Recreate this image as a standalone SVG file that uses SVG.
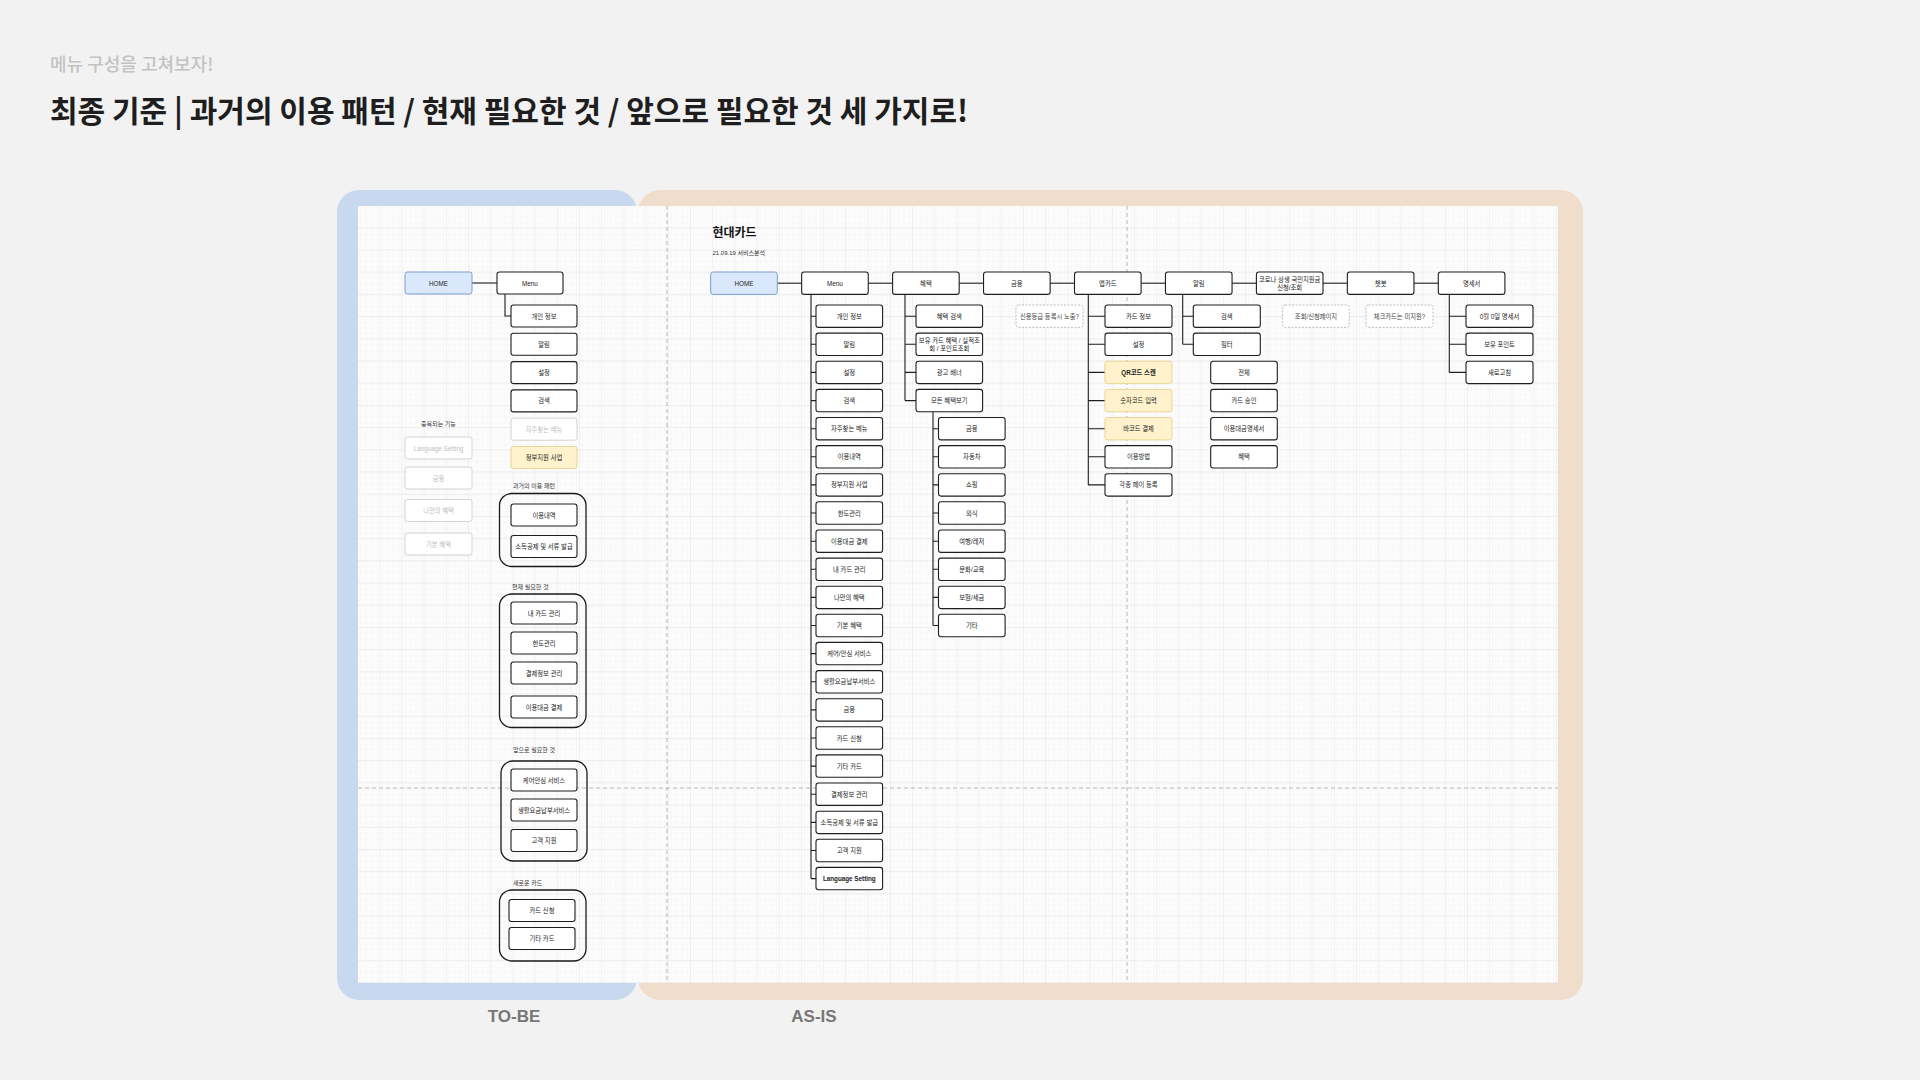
<svg xmlns="http://www.w3.org/2000/svg" width="1920" height="1080" viewBox="0 0 1920 1080">
<defs>
<pattern id="minor" width="5.55" height="5.55" patternUnits="userSpaceOnUse" x="358" y="206"><path d="M5.55 0V5.55H0" fill="none" stroke="#efefef" stroke-width="0.6"/></pattern>
<pattern id="major" width="22.2" height="22.2" patternUnits="userSpaceOnUse" x="358" y="206"><rect width="22.2" height="22.2" fill="url(#minor)"/><path d="M22.2 0V22.2H0" fill="none" stroke="#dedede" stroke-width="0.8"/></pattern>
<style>
.bx{fill:#fff;stroke:#1e1e1e;stroke-width:1.1}
.hm{fill:#dae8fc;stroke:#7d9dd0;stroke-width:1}
.yl{fill:#fff2cc;stroke:#e9d596;stroke-width:1}
.gy{fill:#fff;stroke:#d2d2d2;stroke-width:1}
.nt{fill:#fff;stroke:#b5b5b5;stroke-width:0.9;stroke-dasharray:2 1.5}
.grp{fill:none;stroke:#1a1a1a;stroke-width:1.3}
.cn{fill:none;stroke:#1e1e1e;stroke-width:1.1}
.dash{fill:none;stroke:#a8a8a8;stroke-width:0.8;stroke-dasharray:4 3}
.t{font-family:"Liberation Sans","Noto Sans CJK KR",sans-serif;font-size:6.3px;fill:#222;text-anchor:middle;dominant-baseline:central}
.tg{fill:#bdbdbd}
.tn{fill:#444}
.lb{font-family:"Liberation Sans","Noto Sans CJK KR",sans-serif;font-size:6px;fill:#333}
</style>
</defs>
<rect width="1920" height="1080" fill="#f2f2f2"/>
<text x="50" y="71" font-family="'Noto Sans CJK KR',sans-serif" font-size="18" font-weight="500" fill="#c2c2c2">메뉴 구성을 고쳐보자!</text>
<text x="50" y="122" font-family="'Noto Sans CJK KR',sans-serif" font-size="30" font-weight="700" fill="#1e1e1e">최종 기준 | 과거의 이용 패턴 / 현재 필요한 것 / 앞으로 필요한 것 세 가지로!</text>

<g id="panels">
<rect x="337" y="190" width="300" height="810" rx="22" fill="#c8d8ef"/>
<rect x="638" y="190" width="945" height="810" rx="22" fill="#f0ddcb"/>
<rect x="358" y="206" width="1200" height="777" fill="#fcfcfc"/>
<rect x="358" y="206" width="1200" height="777" fill="url(#major)"/>
<line class="dash" x1="667" y1="206" x2="667" y2="983"/>
<line class="dash" x1="1127" y1="206" x2="1127" y2="983"/>
<line class="dash" x1="358" y1="788" x2="1558" y2="788"/>
</g>
<text x="514" y="1022" font-family="'Liberation Sans','Noto Sans CJK KR',sans-serif" font-size="17" font-weight="700" fill="#777" text-anchor="middle">TO-BE</text>
<text x="814" y="1022" font-family="'Liberation Sans','Noto Sans CJK KR',sans-serif" font-size="17" font-weight="700" fill="#777" text-anchor="middle">AS-IS</text>

<g id="connectors">
<line class="cn" x1="472" y1="283" x2="497" y2="283"/>
<path class="cn" d="M505 294V316H511"/>
<line class="cn" x1="777.3" y1="283.2" x2="801.65" y2="283.2"/>
<line class="cn" x1="868.25" y1="283.2" x2="892.6" y2="283.2"/>
<line class="cn" x1="959.2" y1="283.2" x2="983.55" y2="283.2"/>
<line class="cn" x1="1050.15" y1="283.2" x2="1074.5" y2="283.2"/>
<line class="cn" x1="1141.1" y1="283.2" x2="1165.45" y2="283.2"/>
<line class="cn" x1="1232.05" y1="283.2" x2="1256.4" y2="283.2"/>
<line class="cn" x1="1323" y1="283.2" x2="1347.35" y2="283.2"/>
<line class="cn" x1="1413.95" y1="283.2" x2="1438.3" y2="283.2"/>
<path class="cn" d="M811 294.4V878.6M811 316.2H816M811 344.3H816M811 372.4H816M811 400.6H816M811 428.7H816M811 456.8H816M811 484.9H816M811 513H816M811 541.2H816M811 569.3H816M811 597.4H816M811 625.5H816M811 653.6H816M811 681.8H816M811 709.9H816M811 738H816M811 766.1H816M811 794.2H816M811 822.4H816M811 850.5H816M811 878.6H816"/>
<path class="cn" d="M905 294.4V400.6M905 316.2H916M905 344.3H916M905 372.4H916M905 400.6H916"/>
<path class="cn" d="M933 411.8V625.5M933 428.7H938.5M933 456.8H938.5M933 484.9H938.5M933 513H938.5M933 541.2H938.5M933 569.3H938.5M933 597.4H938.5M933 625.5H938.5"/>
<path class="cn" d="M1088.3 294.4V484.9M1088.3 316.2H1105M1088.3 344.3H1105M1088.3 372.4H1105M1088.3 400.6H1105M1088.3 428.7H1105M1088.3 456.8H1105M1088.3 484.9H1105"/>
<path class="cn" d="M1182.7 294.4V344.3M1182.7 316.2H1193.3M1182.7 344.3H1193.3"/>
<path class="cn" d="M1449.3 294.4V372.4M1449.3 316.2H1466M1449.3 344.3H1466M1449.3 372.4H1466"/>
</g>

<!-- TO-BE -->
<g id="tb-home"><rect class="hm" x="405" y="272" width="67" height="22" rx="2.5"/><text class="t" x="438.5" y="283">HOME</text></g>
<g id="tb-menu"><rect class="bx" x="497" y="272" width="66" height="22" rx="2.5"/><text class="t" x="530" y="283">Menu</text></g>
<g id="tb-m1"><rect class="bx" x="511" y="305" width="66" height="22" rx="2.5"/><text class="t" x="544" y="316">개인 정보</text></g>
<g id="tb-m2"><rect class="bx" x="511" y="333.3" width="66" height="22" rx="2.5"/><text class="t" x="544" y="344.3">알림</text></g>
<g id="tb-m3"><rect class="bx" x="511" y="361.6" width="66" height="22" rx="2.5"/><text class="t" x="544" y="372.6">설정</text></g>
<g id="tb-m4"><rect class="bx" x="511" y="389.9" width="66" height="22" rx="2.5"/><text class="t" x="544" y="400.9">검색</text></g>
<g id="tb-m5"><rect class="gy" x="511" y="418.2" width="66" height="22" rx="2.5"/><text class="t tg" x="544" y="429.2">자주찾는 메뉴</text></g>
<g id="tb-m6"><rect class="yl" x="511" y="446.5" width="66" height="22" rx="2.5"/><text class="t" x="544" y="457.5">정부지원 사업</text></g>
<text class="lb" x="438.5" y="425.5" text-anchor="middle">중복되는 기능</text>
<g id="tb-d1"><rect class="gy" x="405" y="437" width="67" height="22" rx="2.5"/><text class="t tg" x="438.5" y="448">Language Setting</text></g>
<g id="tb-d2"><rect class="gy" x="405" y="467" width="67" height="22" rx="2.5"/><text class="t tg" x="438.5" y="478">금융</text></g>
<g id="tb-d3"><rect class="gy" x="405" y="499.5" width="67" height="22" rx="2.5"/><text class="t tg" x="438.5" y="510.5">나만의 혜택</text></g>
<g id="tb-d4"><rect class="gy" x="405" y="533" width="67" height="22" rx="2.5"/><text class="t tg" x="438.5" y="544">기본 혜택</text></g>

<g id="tb-g1">
<text class="lb" x="513" y="488">과거의 이용 패턴</text>
<rect class="grp" x="499.5" y="493.5" width="86.5" height="73" rx="12"/>
</g>
<g id="tb-p1"><rect class="bx" x="511" y="504" width="66" height="22" rx="2.5"/><text class="t" x="544" y="515">이용내역</text></g>
<g id="tb-p2"><rect class="bx" x="511" y="535.5" width="66" height="22" rx="2.5"/><text class="t" x="544" y="546.5">소득공제 및 서류 발급</text></g>

<g id="tb-g2">
<text class="lb" x="512" y="588.5">현재 필요한 것</text>
<rect class="grp" x="499.5" y="594" width="86.5" height="133.5" rx="12"/>
</g>
<g id="tb-c1"><rect class="bx" x="511" y="602" width="66" height="22" rx="2.5"/><text class="t" x="544" y="613">내 카드 관리</text></g>
<g id="tb-c2"><rect class="bx" x="511" y="632" width="66" height="22" rx="2.5"/><text class="t" x="544" y="643">한도관리</text></g>
<g id="tb-c3"><rect class="bx" x="511" y="662" width="66" height="22" rx="2.5"/><text class="t" x="544" y="673">결제정보 관리</text></g>
<g id="tb-c4"><rect class="bx" x="511" y="696" width="66" height="22" rx="2.5"/><text class="t" x="544" y="707">이용대금 결제</text></g>

<g id="tb-g3">
<text class="lb" x="513" y="751.5">앞으로 필요한 것</text>
<rect class="grp" x="501" y="761" width="86" height="100" rx="12"/>
</g>
<g id="tb-f1"><rect class="bx" x="511" y="769" width="66" height="22" rx="2.5"/><text class="t" x="544" y="780">케어안심 서비스</text></g>
<g id="tb-f2"><rect class="bx" x="511" y="799" width="66" height="22" rx="2.5"/><text class="t" x="544" y="810">생활요금납부서비스</text></g>
<g id="tb-f3"><rect class="bx" x="511" y="829.5" width="66" height="22" rx="2.5"/><text class="t" x="544" y="840.5">고객 지원</text></g>

<g id="tb-g4">
<text class="lb" x="513" y="885">새로운 카드</text>
<rect class="grp" x="499.5" y="890" width="86.5" height="71" rx="12"/>
</g>
<g id="tb-n1"><rect class="bx" x="509" y="899.5" width="66" height="22" rx="2.5"/><text class="t" x="542" y="910.5">카드 신청</text></g>
<g id="tb-n2"><rect class="bx" x="509" y="927.5" width="66" height="22" rx="2.5"/><text class="t" x="542" y="938.5">기타 카드</text></g>

<!-- AS-IS -->
<text x="712.5" y="237" font-family="'Noto Sans CJK KR',sans-serif" font-size="12" font-weight="700" fill="#111">현대카드</text>
<text class="lb" x="712.5" y="255" font-size="6.2">21.09.19 서비스분석</text>

<g id="as-home"><rect class="hm" x="710.7" y="272" width="66.6" height="22.4" rx="2.5"/><text class="t" x="744" y="283.2">HOME</text></g>
<g id="as-menu"><rect class="bx" x="801.65" y="272" width="66.6" height="22.4" rx="2.5"/><text class="t" x="834.95" y="283.2">Menu</text></g>
<g id="as-benefit"><rect class="bx" x="892.6" y="272" width="66.6" height="22.4" rx="2.5"/><text class="t" x="925.9" y="283.2">혜택</text></g>
<g id="as-finance"><rect class="bx" x="983.55" y="272" width="66.6" height="22.4" rx="2.5"/><text class="t" x="1016.85" y="283.2">금융</text></g>
<g id="as-appcard"><rect class="bx" x="1074.5" y="272" width="66.6" height="22.4" rx="2.5"/><text class="t" x="1107.8" y="283.2">앱카드</text></g>
<g id="as-alarm"><rect class="bx" x="1165.45" y="272" width="66.6" height="22.4" rx="2.5"/><text class="t" x="1198.75" y="283.2">알림</text></g>
<g id="as-corona"><rect class="bx" x="1256.4" y="272" width="66.6" height="22.4" rx="2.5"/><text class="t" x="1289.7" y="279.6">코로나 상생 국민지원금</text><text class="t" x="1289.7" y="287">신청/조회</text></g>
<g id="as-chatbot"><rect class="bx" x="1347.35" y="272" width="66.6" height="22.4" rx="2.5"/><text class="t" x="1380.65" y="283.2">챗봇</text></g>
<g id="as-statement"><rect class="bx" x="1438.3" y="272" width="66.6" height="22.4" rx="2.5"/><text class="t" x="1471.6" y="283.2">명세서</text></g>

<g id="as-m0"><rect class="bx" x="816" y="305" width="66.6" height="22.4" rx="2.5"/><text class="t" x="849.3" y="316.2">개인 정보</text></g>
<g id="as-m1"><rect class="bx" x="816" y="333.1" width="66.6" height="22.4" rx="2.5"/><text class="t" x="849.3" y="344.3">알림</text></g>
<g id="as-m2"><rect class="bx" x="816" y="361.2" width="66.6" height="22.4" rx="2.5"/><text class="t" x="849.3" y="372.4">설정</text></g>
<g id="as-m3"><rect class="bx" x="816" y="389.4" width="66.6" height="22.4" rx="2.5"/><text class="t" x="849.3" y="400.6">검색</text></g>
<g id="as-m4"><rect class="bx" x="816" y="417.5" width="66.6" height="22.4" rx="2.5"/><text class="t" x="849.3" y="428.7">자주찾는 메뉴</text></g>
<g id="as-m5"><rect class="bx" x="816" y="445.6" width="66.6" height="22.4" rx="2.5"/><text class="t" x="849.3" y="456.8">이용내역</text></g>
<g id="as-m6"><rect class="bx" x="816" y="473.7" width="66.6" height="22.4" rx="2.5"/><text class="t" x="849.3" y="484.9">정부지원 사업</text></g>
<g id="as-m7"><rect class="bx" x="816" y="501.8" width="66.6" height="22.4" rx="2.5"/><text class="t" x="849.3" y="513">한도관리</text></g>
<g id="as-m8"><rect class="bx" x="816" y="530" width="66.6" height="22.4" rx="2.5"/><text class="t" x="849.3" y="541.2">이용대금 결제</text></g>
<g id="as-m9"><rect class="bx" x="816" y="558.1" width="66.6" height="22.4" rx="2.5"/><text class="t" x="849.3" y="569.3">내 카드 관리</text></g>
<g id="as-m10"><rect class="bx" x="816" y="586.2" width="66.6" height="22.4" rx="2.5"/><text class="t" x="849.3" y="597.4">나만의 혜택</text></g>
<g id="as-m11"><rect class="bx" x="816" y="614.3" width="66.6" height="22.4" rx="2.5"/><text class="t" x="849.3" y="625.5">기본 혜택</text></g>
<g id="as-m12"><rect class="bx" x="816" y="642.4" width="66.6" height="22.4" rx="2.5"/><text class="t" x="849.3" y="653.6">케어/안심 서비스</text></g>
<g id="as-m13"><rect class="bx" x="816" y="670.6" width="66.6" height="22.4" rx="2.5"/><text class="t" x="849.3" y="681.8">생활요금납부서비스</text></g>
<g id="as-m14"><rect class="bx" x="816" y="698.7" width="66.6" height="22.4" rx="2.5"/><text class="t" x="849.3" y="709.9">금융</text></g>
<g id="as-m15"><rect class="bx" x="816" y="726.8" width="66.6" height="22.4" rx="2.5"/><text class="t" x="849.3" y="738">카드 신청</text></g>
<g id="as-m16"><rect class="bx" x="816" y="754.9" width="66.6" height="22.4" rx="2.5"/><text class="t" x="849.3" y="766.1">기타 카드</text></g>
<g id="as-m17"><rect class="bx" x="816" y="783" width="66.6" height="22.4" rx="2.5"/><text class="t" x="849.3" y="794.2">결제정보 관리</text></g>
<g id="as-m18"><rect class="bx" x="816" y="811.2" width="66.6" height="22.4" rx="2.5"/><text class="t" x="849.3" y="822.4">소득공제 및 서류 발급</text></g>
<g id="as-m19"><rect class="bx" x="816" y="839.3" width="66.6" height="22.4" rx="2.5"/><text class="t" x="849.3" y="850.5">고객 지원</text></g>
<g id="as-m20"><rect class="bx" x="816" y="867.4" width="66.6" height="22.4" rx="2.5"/><text class="t" x="849.3" y="878.6" font-weight="700">Language Setting</text></g>

<g id="as-b0"><rect class="bx" x="916" y="305" width="66.6" height="22.4" rx="2.5"/><text class="t" x="949.3" y="316.2">혜택 검색</text></g>
<g id="as-b1"><rect class="bx" x="916" y="333.1" width="66.6" height="22.4" rx="2.5"/><text class="t" x="949.3" y="340.6">보유 카드 혜택 / 실적조</text><text class="t" x="949.3" y="348">회 / 포인트조회</text></g>
<g id="as-b2"><rect class="bx" x="916" y="361.2" width="66.6" height="22.4" rx="2.5"/><text class="t" x="949.3" y="372.4">광고 배너</text></g>
<g id="as-b3"><rect class="bx" x="916" y="389.4" width="66.6" height="22.4" rx="2.5"/><text class="t" x="949.3" y="400.6">모든 혜택보기</text></g>

<g id="as-a0"><rect class="bx" x="938.5" y="417.5" width="66.6" height="22.4" rx="2.5"/><text class="t" x="971.8" y="428.7">금융</text></g>
<g id="as-a1"><rect class="bx" x="938.5" y="445.6" width="66.6" height="22.4" rx="2.5"/><text class="t" x="971.8" y="456.8">자동차</text></g>
<g id="as-a2"><rect class="bx" x="938.5" y="473.7" width="66.6" height="22.4" rx="2.5"/><text class="t" x="971.8" y="484.9">쇼핑</text></g>
<g id="as-a3"><rect class="bx" x="938.5" y="501.8" width="66.6" height="22.4" rx="2.5"/><text class="t" x="971.8" y="513">외식</text></g>
<g id="as-a4"><rect class="bx" x="938.5" y="530" width="66.6" height="22.4" rx="2.5"/><text class="t" x="971.8" y="541.2">여행/레저</text></g>
<g id="as-a5"><rect class="bx" x="938.5" y="558.1" width="66.6" height="22.4" rx="2.5"/><text class="t" x="971.8" y="569.3">문화/교육</text></g>
<g id="as-a6"><rect class="bx" x="938.5" y="586.2" width="66.6" height="22.4" rx="2.5"/><text class="t" x="971.8" y="597.4">보험/세금</text></g>
<g id="as-a7"><rect class="bx" x="938.5" y="614.3" width="66.6" height="22.4" rx="2.5"/><text class="t" x="971.8" y="625.5">기타</text></g>

<g id="as-note-finance"><rect class="nt" x="1016" y="305" width="67" height="22.4" rx="2.5"/><text class="t tn" x="1049.5" y="316.2">신용등급 등록시 노출?</text></g>

<g id="as-c0"><rect class="bx" x="1105" y="305" width="67" height="22.4" rx="2.5"/><text class="t" x="1138.5" y="316.2">카드 정보</text></g>
<g id="as-c1"><rect class="bx" x="1105" y="333.1" width="67" height="22.4" rx="2.5"/><text class="t" x="1138.5" y="344.3">설정</text></g>
<g id="as-c2"><rect class="yl" x="1105" y="361.2" width="67" height="22.4" rx="2.5"/><text class="t" x="1138.5" y="372.4" font-weight="700">QR코드 스캔</text></g>
<g id="as-c3"><rect class="yl" x="1105" y="389.4" width="67" height="22.4" rx="2.5"/><text class="t" x="1138.5" y="400.6">숫자코드 입력</text></g>
<g id="as-c4"><rect class="yl" x="1105" y="417.5" width="67" height="22.4" rx="2.5"/><text class="t" x="1138.5" y="428.7">바코드 결제</text></g>
<g id="as-c5"><rect class="bx" x="1105" y="445.6" width="67" height="22.4" rx="2.5"/><text class="t" x="1138.5" y="456.8">이용방법</text></g>
<g id="as-c6"><rect class="bx" x="1105" y="473.7" width="67" height="22.4" rx="2.5"/><text class="t" x="1138.5" y="484.9">각종 페이 등록</text></g>

<g id="as-l0"><rect class="bx" x="1193.3" y="305" width="67" height="22.4" rx="2.5"/><text class="t" x="1226.8" y="316.2">검색</text></g>
<g id="as-l1"><rect class="bx" x="1193.3" y="333.1" width="67" height="22.4" rx="2.5"/><text class="t" x="1226.8" y="344.3">필터</text></g>
<g id="as-l2"><rect class="bx" x="1210.7" y="361.2" width="66.6" height="22.4" rx="2.5"/><text class="t" x="1244" y="372.4">전체</text></g>
<g id="as-l3"><rect class="bx" x="1210.7" y="389.4" width="66.6" height="22.4" rx="2.5"/><text class="t" x="1244" y="400.6">카드 승인</text></g>
<g id="as-l4"><rect class="bx" x="1210.7" y="417.5" width="66.6" height="22.4" rx="2.5"/><text class="t" x="1244" y="428.7">이용대금명세서</text></g>
<g id="as-l5"><rect class="bx" x="1210.7" y="445.6" width="66.6" height="22.4" rx="2.5"/><text class="t" x="1244" y="456.8">혜택</text></g>

<g id="as-note-corona"><rect class="nt" x="1282.7" y="305" width="66.6" height="22.4" rx="2.5"/><text class="t tn" x="1316" y="316.2">조회/신청페이지</text></g>
<g id="as-note-chatbot"><rect class="nt" x="1366" y="305" width="67" height="22.4" rx="2.5"/><text class="t tn" x="1399.5" y="316.2">체크카드는 미지원?</text></g>

<g id="as-s0"><rect class="bx" x="1466" y="305" width="67" height="22.4" rx="2.5"/><text class="t" x="1499.5" y="316.2">0월 0일 명세서</text></g>
<g id="as-s1"><rect class="bx" x="1466" y="333.1" width="67" height="22.4" rx="2.5"/><text class="t" x="1499.5" y="344.3">보유 포인트</text></g>
<g id="as-s2"><rect class="bx" x="1466" y="361.2" width="67" height="22.4" rx="2.5"/><text class="t" x="1499.5" y="372.4">새로고침</text></g>
</svg>
